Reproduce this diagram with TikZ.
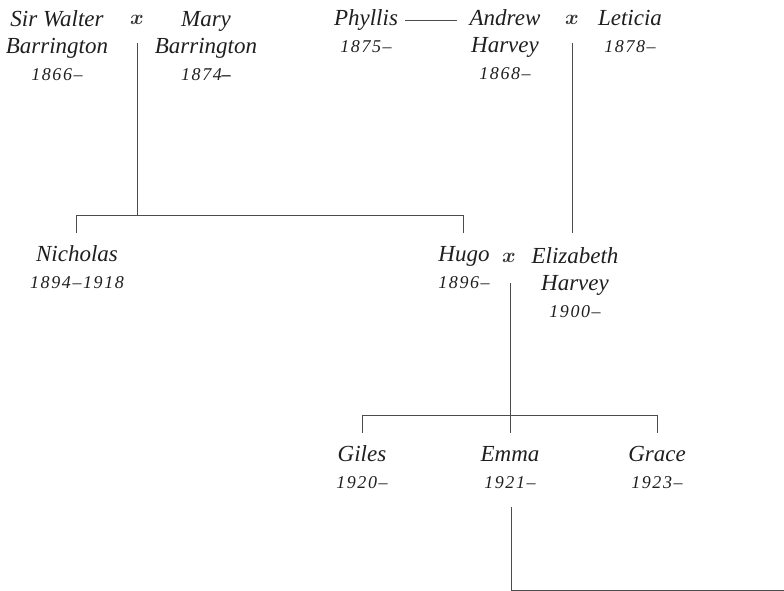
\documentclass[tikz,border=0pt]{standalone}
\usepackage{amsmath}
\usepackage{fontspec}
\setmainfont{Liberation Serif}
\newfontfamily\datef[LetterSpace=9]{Liberation Serif}
\newcommand\yrs[1]{{\datef\fontsize{18}{27}\selectfont\itshape #1}}
\begin{document}
\begin{tikzpicture}[x=1pt,y=-1pt,
 person/.style={align=center, inner sep=0pt, anchor=base, text=black!88,
   font=\fontsize{23}{27}\selectfont\itshape},
 marr/.style={inner sep=0pt, anchor=base, text=black!80, font=\fontsize{21}{27}\selectfont},
 link/.style={draw=black!70, line width=0.8pt}]
\useasboundingbox (0,0) rectangle (784,591);
% generation 1 (anchor = baseline of last line)
\node[person] (walter) at (57,81) {Sir Walter\\Barrington\\\yrs{1866–}};
\node[marr] (m1) at (137,25) {$\boldsymbol{x}$};
\node[person] (mary) at (206,81) {Mary\\Barrington\\\yrs{1874{\bfseries–}}};
\node[person] (phyllis) at (366,53) {Phyllis\\\yrs{1875–}};
\node[person] (andrew) at (505,80) {Andrew\\Harvey\\\yrs{1868–}};
\node[marr] (m2) at (572,25) {$\boldsymbol{x}$};
\node[person] (leticia) at (630,53) {Leticia\\\yrs{1878–}};
% generation 2
\node[person] (nicholas) at (77,288) {Nicholas\\\yrs{1894–1918}};
\node[person] (hugo) at (464,288) {Hugo\\\yrs{1896–}};
\node[marr] (m3) at (509,262) {$\boldsymbol{x}$};
\node[person] (eliz) at (575,317) {Elizabeth\\Harvey\\\yrs{1900–}};
% generation 3
\node[person] (giles) at (362,488) {Giles\\\yrs{1920–}};
\node[person] (emma) at (510,488) {Emma\\\yrs{1921–}};
\node[person] (grace) at (657,488) {Grace\\\yrs{1923–}};
% connector points
\coordinate (pa1) at (405,20);
\coordinate (pa2) at (457,20);
\coordinate (m1d) at (137,43);
\coordinate (j1) at (137,215);
\coordinate (nt) at (76,233);
\coordinate (ht) at (463,233);
\coordinate (m2d) at (572,43);
\coordinate (et) at (572,233);
\coordinate (m3d) at (510,283);
\coordinate (j2) at (510,415);
\coordinate (gt) at (362,433);
\coordinate (emt) at (510,433);
\coordinate (grt) at (657,433);
\coordinate (emd) at (511,507);
\coordinate (out) at (784,590);
% connectors
\draw[link] (pa1) -- (pa2);
\draw[link] (m1d) -- (j1);
\draw[link] (nt) -- (nt |- j1) -- (ht |- j1) -- (ht);
\draw[link] (m2d) -- (et);
\draw[link] (m3d) -- (emt);
\draw[link] (gt) -- (gt |- j2) -- (grt |- j2) -- (grt);
\draw[link] (emd) |- (out);
\end{tikzpicture}
\end{document}
